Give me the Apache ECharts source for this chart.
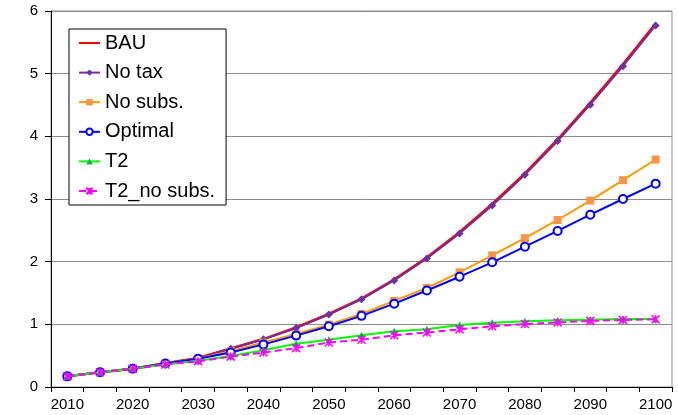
<!DOCTYPE html>
<html>
<head>
<meta charset="utf-8">
<script src="https://cdn.jsdelivr.net/npm/echarts@6/dist/echarts.min.js"></script>
<style>
  html, body { margin: 0; padding: 0; background: #fff; }
  #chart { width: 678px; height: 415px; }
</style>
</head>
<body>
<div id="chart"></div>
<script>
// Five-year steps from 2010 to 2100
const years = ['2010','2015','2020','2025','2030','2035','2040','2045','2050','2055',
               '2060','2065','2070','2075','2080','2085','2090','2095','2100'];

const bau      = [0.17, 0.235, 0.29, 0.38, 0.465, 0.615, 0.765, 0.95, 1.165, 1.41, 1.715, 2.065, 2.47, 2.92, 3.41, 3.95, 4.535, 5.15, 5.80];
const noTax    = [0.17, 0.235, 0.29, 0.38, 0.46, 0.61, 0.76, 0.94, 1.155, 1.40, 1.70, 2.05, 2.45, 2.895, 3.385, 3.925, 4.505, 5.12, 5.77];
const noSubs   = [0.17, 0.235, 0.29, 0.375, 0.455, 0.57, 0.71, 0.845, 0.995, 1.165, 1.375, 1.58, 1.83, 2.10, 2.375, 2.665, 2.975, 3.30, 3.63];
const optimal  = [0.17, 0.235, 0.29, 0.375, 0.45, 0.55, 0.68, 0.82, 0.97, 1.135, 1.33, 1.54, 1.76, 1.99, 2.24, 2.49, 2.75, 3.00, 3.245];
const t2       = [0.17, 0.235, 0.29, 0.36, 0.42, 0.495, 0.585, 0.69, 0.755, 0.825, 0.89, 0.92, 0.99, 1.025, 1.05, 1.065, 1.075, 1.085, 1.085];
const t2NoSubs = [0.17, 0.235, 0.29, 0.36, 0.41, 0.485, 0.55, 0.62, 0.71, 0.755, 0.825, 0.87, 0.92, 0.97, 1.005, 1.03, 1.055, 1.07, 1.08];

const FONT = 'Liberation Sans, Arial, sans-serif';
// asterisk-style marker (x with a vertical stroke)
const STAR = 'path://M0,0L10,10M10,0L0,10M5,0L5,10';
// plain line swatch for the series drawn without markers
const LINE_ICON = 'path://M0,0H21V2H0Z';

const chart = echarts.init(document.getElementById('chart'), null, { renderer: 'canvas' });

chart.setOption({
  animation: false,
  backgroundColor: '#fff',
  textStyle: { fontFamily: FONT },
  grid: {
    left: 51, right: 6, top: 11, bottom: 28,
    show: true, borderColor: '#8c8c8c', borderWidth: 1
  },
  legend: {
    left: 69, top: 29,
    orient: 'vertical',
    padding: [4, 11, 4, 9],
    itemWidth: 21, itemHeight: 8, itemGap: 9.6,
    backgroundColor: '#fff',
    borderColor: '#000', borderWidth: 1, borderRadius: 0,
    textStyle: { fontFamily: FONT, fontSize: 20, color: '#000' },
    data: [
      { name: 'BAU', icon: LINE_ICON },
      'No tax', 'No subs.', 'Optimal', 'T2', 'T2_no subs.'
    ]
  },
  xAxis: {
    type: 'category',
    data: years,
    boundaryGap: true,
    axisLine: { lineStyle: { color: '#000', width: 1 } },
    axisTick: { show: true, interval: 0, length: 5, inside: false, lineStyle: { color: '#000' } },
    axisLabel: { interval: 1, margin: 10, fontFamily: FONT, fontSize: 15, color: '#000' },
    splitLine: { show: false }
  },
  yAxis: {
    type: 'value',
    min: 0, max: 6, interval: 1,
    axisLine: { show: true, lineStyle: { color: '#000', width: 1 } },
    axisTick: { show: true, length: 6, lineStyle: { color: '#000' } },
    axisLabel: { margin: 13, fontFamily: FONT, fontSize: 15, color: '#000' },
    splitLine: { show: true, lineStyle: { color: '#8c8c8c', width: 1 } }
  },
  series: [
    {
      name: 'BAU', type: 'line', data: bau, z: 2,
      showSymbol: false, symbol: 'none',
      lineStyle: { color: '#ff0000', width: 2.5 },
      itemStyle: { color: '#ff0000' }
    },
    {
      name: 'No tax', type: 'line', data: noTax, z: 3,
      symbol: 'diamond', symbolSize: 8,
      lineStyle: { color: '#7030a0', width: 2 },
      itemStyle: { color: '#7030a0' }
    },
    {
      name: 'No subs.', type: 'line', data: noSubs, z: 4,
      symbol: 'rect', symbolSize: 8,
      lineStyle: { color: '#ff9900', width: 2 },
      itemStyle: { color: '#f79646' }
    },
    {
      name: 'Optimal', type: 'line', data: optimal, z: 5,
      symbol: 'emptyCircle', symbolSize: 8,
      lineStyle: { color: '#0000ff', width: 2 },
      itemStyle: { color: '#0000ff', borderColor: '#0000ff', borderWidth: 1.2 }
    },
    {
      name: 'T2', type: 'line', data: t2, z: 6,
      symbol: 'triangle', symbolSize: 7,
      lineStyle: { color: '#00ff00', width: 2 },
      itemStyle: { color: '#00b050' }
    },
    {
      name: 'T2_no subs.', type: 'line', data: t2NoSubs, z: 7,
      symbol: STAR, symbolSize: 8,
      lineStyle: { color: '#ff00ff', width: 2, type: [7, 4] },
      itemStyle: { color: 'none', borderColor: '#ff00ff', borderWidth: 1.5 }
    }
  ]
});
</script>
</body>
</html>
